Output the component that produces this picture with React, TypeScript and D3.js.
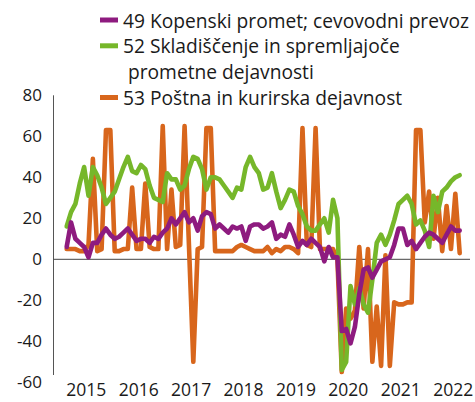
import React from 'react'
import * as d3 from 'd3'

// monthly values, Feb 2015 - Aug 2022
const startMonth = 1 // months since Jan 2015

const kopenski = [
  6, 18, 10, 8, 6, 1, 8, 8, 12, 15,
  12, 10, 11, 13, 15, 12, 9, 10, 10, 8,
  11, 10, 13, 15, 20, 17, 20, 23, 18, 20,
  14, 21, 23, 22, 15, 17, 15, 13, 16, 15,
  16, 9, 16, 17, 17, 15, 16, 18, 10, 12,
  11, 17, 12, 6, 9, 7, 10, 8, 6, -1,
  6, 1, 1, -35, -34, -41, -33, -17, -5, -4,
  -9, -5, -1, 0, 1, 7, 15, 15, 7, 9,
  5, 8, 11, 13, 12, 10, 8, 12, 16, 14, 14
]

const skladiscenje = [
  16, 23, 27, 37, 45, 31, 45, 41, 35, 27,
  30, 33, 39, 45, 50, 43, 42, 46, 44, 36,
  30, 29, 28, 42, 39, 39, 34, 36, 44, 50,
  49, 44, 34, 40, 40, 39, 36, 33, 30, 35,
  34, 45, 50, 45, 42, 34, 35, 42, 33, 25,
  29, 34, 33, 26, 22, 16, 14, 14, 17, 20,
  13, 29, 20, -54, -50, -13, -22, -14, -22, -26,
  -10, 8, 12, 7, 12, 19, 27, 29, 31, 27,
  17, 19, 14, 6, 31, 23, 33, 35, 38, 40, 41
]

const postna = [
  5, 5, 5, 4, 4, 7, 49, 4, 5, 63,
  63, 4, 4, 5, 5, 35, 5, 5, 37, 6,
  5, 5, 65, 5, 34, 6, 7, 65, 7, -50,
  5, 6, 64, 64, 4, 4, 4, 4, 4, 6,
  7, 6, 5, 4, 4, 4, 6, 3, 5, 4,
  6, 6, 5, 3, 64, 7, 6, 64, 5, 5,
  5, 5, 0, -55, -24, -29, -25, 6, -24, 5,
  -50, -23, -52, 2, -52, -21, -22, -22, -21, -21,
  63, 63, 18, 33, 10, 30, 4, 26, 5, 32, 3
]

const years = [2015, 2016, 2017, 2018, 2019, 2020, 2021, 2022]
const yTicks = [80, 60, 40, 20, 0, -20, -40, -60]

const series = [
  { name: '53 Poštna in kurirska dejavnost', values: postna, color: '#D8661C' },
  { name: '52 Skladiščenje in spremljajoče', values: skladiscenje, color: '#76B72A' },
  { name: '49 Kopenski promet; cevovodni prevoz', values: kopenski, color: '#8E1B7F' },
]

const font = '"Open Sans", Lato, sans-serif'

export default function App() {
  const width = 475
  const height = 402

  const x = d3.scaleLinear().domain([0, 96]).range([62.3, 62.3 + 96 * 4.367])
  const y = d3.scaleLinear().domain([-60, 80]).range([382.3, 95.3])

  const line = d3.line<number>()
    .x((d, i) => x(startMonth + i))
    .y(d => y(d))

  const legend = [
    { color: '#8E1B7F', lines: ['49 Kopenski promet; cevovodni prevoz'], sy: 20, ty: 27.5 },
    { color: '#76B72A', lines: ['52 Skladiščenje in spremljajoče', 'prometne dejavnosti'], sy: 45.8, ty: 53.3 },
    { color: '#D8661C', lines: ['53 Poštna in kurirska dejavnost'], sy: 97.5, ty: 104.9 },
  ]

  return (
    <svg width={width} height={height} style={{ position: 'absolute', left: 0, top: 0, background: '#fff' }}
      fontFamily={font}>
      {/* axes */}
      <line x1={53.5} x2={53.5} y1={y(80)} y2={375} stroke="#555" strokeWidth={1} />
      <line x1={53.5} x2={470} y1={y(0)} y2={y(0)} stroke="#444" strokeWidth={1} />

      {yTicks.map(t => (
        <text key={t} x={42} y={y(t)} dy="0.35em" textAnchor="end" fontSize={17} fill="#1a1a1a">{t}</text>
      ))}
      {years.map((yr, i) => (
        <text key={yr} x={x(12 * i + 5.5)} y={396} textAnchor="middle" fontSize={17.5} fill="#1a1a1a">{yr}</text>
      ))}

      {series.map(s => (
        <path key={s.name} d={line(s.values) || ''} fill="none" stroke={s.color}
          strokeWidth={4.6} strokeLinejoin="round" strokeLinecap="round" />
      ))}

      {legend.map(l => (
        <g key={l.lines[0]}>
          <line x1={100} x2={118} y1={l.sy} y2={l.sy} stroke={l.color} strokeWidth={5} />
          {l.lines.map((t, j) => (
            <text key={t} x={j === 0 ? 123 : 128} y={l.ty + j * 25.8} fontSize={19.2}
              fill="#1a1a1a">{t}</text>
          ))}
        </g>
      ))}
    </svg>
  )
}
